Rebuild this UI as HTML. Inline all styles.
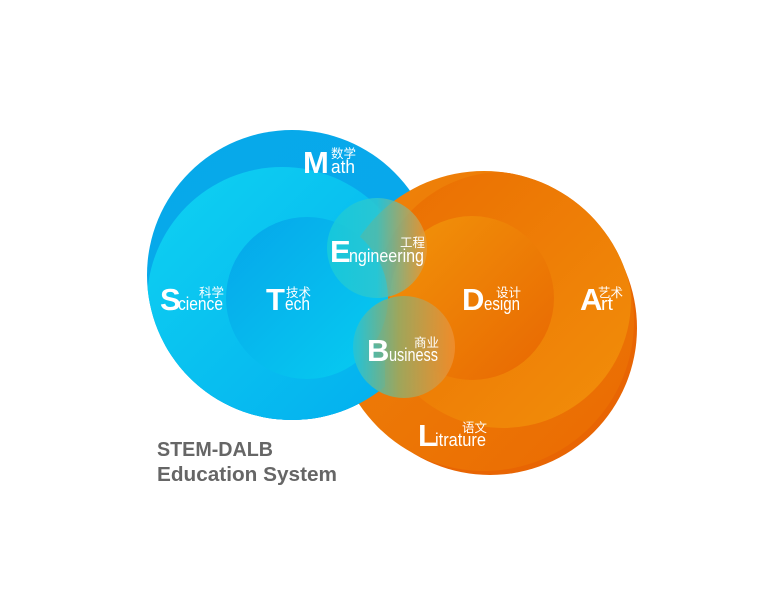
<!DOCTYPE html>
<html><head><meta charset="utf-8"><style>
html,body{margin:0;padding:0;background:#fff;}
svg{display:block;}
.big{font-family:"Liberation Sans",sans-serif;font-weight:bold;fill:#fff;}
.sm{font-family:"Liberation Sans",sans-serif;fill:#fff;}
.cj{font-family:"Liberation Sans","Noto Sans CJK SC",sans-serif;fill:#fff;font-size:12.5px;text-anchor:end;}
</style></head><body>
<svg width="780" height="596" viewBox="0 0 780 596">
<defs>
<linearGradient id="gB" x1="0" y1="0" x2="1" y2="1"><stop offset="0" stop-color="#06a9ea"/><stop offset="1" stop-color="#0aa8ec"/></linearGradient>
<linearGradient id="gS" x1="0" y1="0" x2="1" y2="1"><stop offset="0" stop-color="#0fd2f2"/><stop offset="1" stop-color="#02acee"/></linearGradient>
<linearGradient id="gT" x1="0" y1="0" x2="1" y2="1"><stop offset="0" stop-color="#05a6ea"/><stop offset="1" stop-color="#07cdf1"/></linearGradient>
<linearGradient id="gO" x1="0" y1="0" x2="1" y2="1"><stop offset="0" stop-color="#ef8409"/><stop offset="1" stop-color="#ea6a02"/></linearGradient>
<linearGradient id="gA" x1="0" y1="0" x2="1" y2="1"><stop offset="0" stop-color="#ea6d02"/><stop offset="1" stop-color="#f28f0a"/></linearGradient>
<linearGradient id="gD" x1="0" y1="0" x2="1" y2="1"><stop offset="0" stop-color="#f29409"/><stop offset="1" stop-color="#e86702"/></linearGradient>
<linearGradient id="gE" x1="0" y1="0" x2="1" y2="0"><stop offset="0" stop-color="#16c9dc" stop-opacity="0.92"/><stop offset="0.5" stop-color="#2cc7d0" stop-opacity="0.85"/><stop offset="1" stop-color="#e79a38" stop-opacity="0.8"/></linearGradient>
<linearGradient id="gBu" x1="0" y1="0" x2="1" y2="0"><stop offset="0" stop-color="#23c4d8" stop-opacity="0.95"/><stop offset="0.45" stop-color="#9aa860" stop-opacity="0.95"/><stop offset="1" stop-color="#ef8f30" stop-opacity="0.85"/></linearGradient>
<clipPath id="cO"><circle cx="484" cy="321" r="150"/></clipPath>
<clipPath id="cB"><circle cx="292" cy="275" r="145"/></clipPath>
<clipPath id="cLow"><rect x="100" y="345" width="285" height="120"/></clipPath>
</defs>
<g>
<circle cx="292" cy="275" r="145" fill="url(#gB)"/>
<circle cx="282" cy="302" r="135" fill="url(#gS)" clip-path="url(#cB)"/>
</g>
<g>
<circle cx="490" cy="328" r="147" fill="#e86503"/>
<circle cx="484" cy="321" r="150" fill="url(#gO)"/>
<circle cx="503" cy="300" r="128" fill="url(#gA)" clip-path="url(#cO)"/>
<circle cx="472" cy="298" r="82" fill="url(#gD)"/>
</g>
<g clip-path="url(#cLow)">
<circle cx="292" cy="275" r="145" fill="url(#gB)"/>
<circle cx="282" cy="302" r="135" fill="url(#gS)" clip-path="url(#cB)"/>
</g>
<circle cx="307" cy="298" r="81" fill="url(#gT)"/>
<circle cx="377" cy="248" r="50" fill="url(#gE)"/>
<circle cx="404" cy="347" r="51" fill="url(#gBu)"/>

<g><text class="big" x="303" y="173" font-size="31">M</text><text class="sm" x="331" y="173" font-size="18" textLength="24" lengthAdjust="spacingAndGlyphs">ath</text><text class="cj" x="356" y="158">数学</text></g>
<g><text class="big" x="160" y="310" font-size="31">S</text><text class="sm" x="178" y="310" font-size="18" textLength="45" lengthAdjust="spacingAndGlyphs">cience</text><text class="cj" x="224" y="297">科学</text></g>
<g><text class="big" x="266" y="310" font-size="31">T</text><text class="sm" x="285" y="310" font-size="18" textLength="25" lengthAdjust="spacingAndGlyphs">ech</text><text class="cj" x="311" y="297">技术</text></g>
<g><text class="big" x="330" y="262" font-size="31">E</text><text class="sm" x="349" y="262" font-size="18" textLength="75" lengthAdjust="spacingAndGlyphs">ngineering</text><text class="cj" x="425" y="247">工程</text></g>
<g><text class="big" x="462" y="310" font-size="31">D</text><text class="sm" x="484" y="310" font-size="18" textLength="36" lengthAdjust="spacingAndGlyphs">esign</text><text class="cj" x="521" y="297">设计</text></g>
<g><text class="big" x="580" y="310" font-size="31">A</text><text class="sm" x="601" y="310" font-size="18" textLength="12" lengthAdjust="spacingAndGlyphs">rt</text><text class="cj" x="623" y="297">艺术</text></g>
<g><text class="big" x="367" y="361" font-size="31">B</text><text class="sm" x="389" y="361" font-size="18" textLength="49" lengthAdjust="spacingAndGlyphs">usiness</text><text class="cj" x="439" y="347">商业</text></g>
<g><text class="big" x="418" y="446" font-size="31">L</text><text class="sm" x="435" y="446" font-size="18" textLength="51" lengthAdjust="spacingAndGlyphs">itrature</text><text class="cj" x="487" y="432">语文</text></g>

<text x="157" y="456" font-family="Liberation Sans,sans-serif" font-weight="bold" font-size="20" fill="#666" textLength="116" lengthAdjust="spacingAndGlyphs">STEM-DALB</text>
<text x="157" y="481" font-family="Liberation Sans,sans-serif" font-weight="bold" font-size="20" fill="#666" textLength="180" lengthAdjust="spacingAndGlyphs">Education System</text>
</svg>
</body></html>
